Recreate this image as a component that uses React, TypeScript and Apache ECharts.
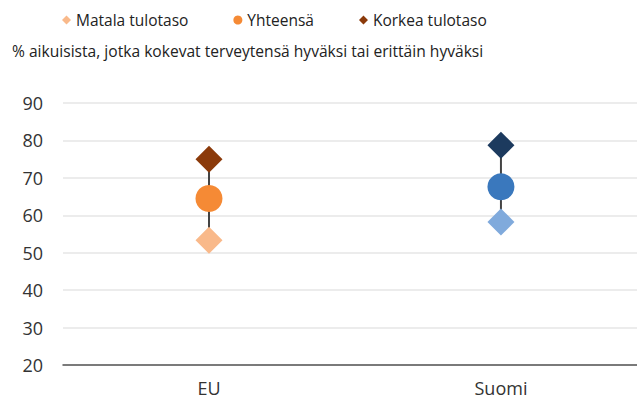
import React, { useEffect, useRef } from "react";
import * as echarts from "echarts";

const categories = ["EU", "Suomi"];
const categoryPositions = [0, 1];
const lowValues = [53.3, 58.2];
const totalValues = [64.5, 67.6];
const highValues = [75, 78.7];
const seriesNames = ["Matala tulotaso", "Yhteensä", "Korkea tulotaso"];
const subtitle = "% aikuisista, jotka kokevat terveytensä hyväksi tai erittäin hyväksi";

const lowColors = ["#f9b98a", "#80aadc"];
const totalColors = ["#f58a35", "#3a78bd"];
const highColors = ["#8b3a0a", "#1c3a5e"];

const FONT = "Open Sans";

export default function App() {
  const ref = useRef<HTMLDivElement>(null);
  useEffect(() => {
    if (!ref.current) return;
    const chart = echarts.init(ref.current, undefined, { renderer: "svg" });
    const mk = (vals: number[], cols: string[]) =>
      vals.map((v, i) => ({ value: [categoryPositions[i], v], itemStyle: { color: cols[i] } }));
    chart.setOption({
      animation: false,
      textStyle: { fontFamily: FONT },
      title: {
        text: subtitle,
        left: 12,
        top: 43,
        padding: 0,
        textStyle: { fontFamily: FONT, fontSize: 15.6, fontWeight: "normal", color: "#222" },
      },
      legend: {
        top: 12,
        left: 62,
        padding: 0,
        itemGap: 45,
        itemWidth: 9,
        itemHeight: 9,
        textStyle: { fontFamily: FONT, fontSize: 15.5, color: "#222" },
        data: seriesNames,
      },
      grid: { left: 63, right: 0, top: 103, bottom: 35 },
      xAxis: {
        type: "value",
        min: -0.5,
        max: 1.466,
        splitLine: { show: false },
        axisLine: { onZero: false, lineStyle: { color: "#555", width: 1.5 } },
        axisTick: { show: false },
        axisLabel: {
          customValues: categoryPositions,
          formatter: (v: number) => categories[Math.round(v)] ?? "",
          fontFamily: FONT,
          fontSize: 18,
          color: "#333",
          margin: 14,
        },
      },
      yAxis: {
        type: "value",
        min: 20,
        max: 90,
        interval: 10,
        axisLine: { show: false },
        axisTick: { show: false },
        axisLabel: { fontFamily: FONT, fontSize: 18, color: "#333", margin: 20 },
        splitLine: { lineStyle: { color: "#e6e6e6", width: 1.5 } },
      },
      series: [
        {
          type: "custom",
          silent: true,
          z: 1,
          data: categoryPositions.map((p, i) => [p, lowValues[i], highValues[i]]),
          renderItem: (params: any, api: any) => {
            const p1 = api.coord([api.value(0), api.value(1)]);
            const p2 = api.coord([api.value(0), api.value(2)]);
            return {
              type: "line",
              shape: { x1: p1[0], y1: p1[1], x2: p2[0], y2: p2[1] },
              style: { stroke: "#444", lineWidth: 2 },
            };
          },
        },
        {
          name: seriesNames[0],
          type: "scatter",
          symbol: "diamond",
          symbolSize: 27,
          z: 3,
          itemStyle: { color: lowColors[0], opacity: 1 },
          data: mk(lowValues, lowColors),
        },
        {
          name: seriesNames[1],
          type: "scatter",
          symbol: "circle",
          symbolSize: 27,
          z: 3,
          itemStyle: { color: totalColors[0], opacity: 1 },
          data: mk(totalValues, totalColors),
        },
        {
          name: seriesNames[2],
          type: "scatter",
          symbol: "diamond",
          symbolSize: 27,
          z: 3,
          itemStyle: { color: highColors[0], opacity: 1 },
          data: mk(highValues, highColors),
        },
      ],
    });
    return () => chart.dispose();
  }, []);
  return <div ref={ref} style={{ width: 637, height: 400, position: "absolute", left: 0, top: 0 }} />;
}
